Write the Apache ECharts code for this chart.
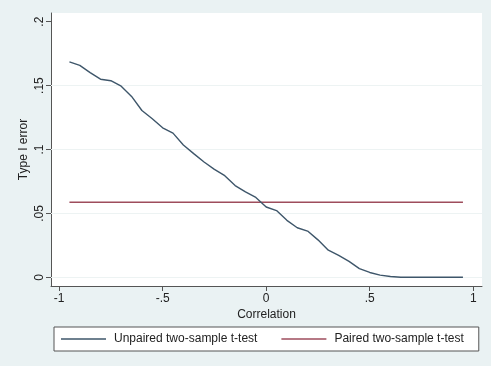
<!DOCTYPE html>
<html>
<head>
<meta charset="utf-8">
<script src="https://cdn.jsdelivr.net/npm/echarts@6/dist/echarts.min.js"></script>
<style>
html,body{margin:0;padding:0;background:#eaf2f3;}
#c{width:491px;height:366px;}
</style>
</head>
<body>
<div id="c"></div>
<script>
const correlation = [-0.95,-0.90,-0.85,-0.80,-0.75,-0.70,-0.65,-0.60,-0.55,-0.50,-0.45,-0.40,-0.35,-0.30,-0.25,-0.20,-0.15,-0.10,-0.05,0.00,0.05,0.10,0.15,0.20,0.25,0.30,0.35,0.40,0.45,0.50,0.55,0.60,0.65,0.70,0.75,0.80,0.85,0.90,0.95];
const unpaired = [0.1685,0.1658,0.1602,0.1550,0.1538,0.1495,0.1415,0.1305,0.1240,0.1170,0.1128,0.1035,0.0968,0.0902,0.0845,0.0795,0.0718,0.0668,0.0625,0.0550,0.0522,0.0446,0.0388,0.0362,0.0293,0.0212,0.0172,0.0125,0.0068,0.0038,0.0017,0.0006,0.0001,0.0000,0.0000,0.0000,0.0000,0.0000,0.0000];
const paired = [0.0587,0.0587,0.0587,0.0587,0.0587,0.0587,0.0587,0.0587,0.0587,0.0587,0.0587,0.0587,0.0587,0.0587,0.0587,0.0587,0.0587,0.0587,0.0587,0.0587,0.0587,0.0587,0.0587,0.0587,0.0587,0.0587,0.0587,0.0587,0.0587,0.0587,0.0587,0.0587,0.0587,0.0587,0.0587,0.0587,0.0587,0.0587,0.0587];
const xTicks = [-1, -0.5, 0, 0.5, 1];
const yTicks = [0, 0.05, 0.1, 0.15, 0.2];
const yGrid = [0, 0.05, 0.1, 0.15];
const seriesNames = ['Unpaired two-sample t-test', 'Paired two-sample t-test'];

function stataFmt(v) {
  if (Math.abs(v) < 1e-9) return '0';
  let s = String(Math.round(v * 1000) / 1000);
  s = s.replace(/^(-?)0\./, '$1.');
  return s;
}

const font = "'Liberation Sans', Arial, sans-serif";
const chart = echarts.init(document.getElementById('c'), null, {renderer: 'canvas'});
chart.setOption({
  backgroundColor: '#eaf2f3',
  animation: false,
  textStyle: {fontFamily: font},
  grid: {left: 51, right: 9, top: 13, bottom: 80, show: true, backgroundColor: '#ffffff', borderWidth: 0},
  xAxis: {
    type: 'value', min: -1.039, max: 1.042,
    name: 'Correlation', nameLocation: 'middle', nameGap: 23, nameMoveOverlap: false,
    nameTextStyle: {fontSize: 12, color: '#222', fontFamily: font},
    axisLine: {show: true, onZero: false, lineStyle: {color: '#555', width: 1}},
    axisTick: {show: true, customValues: xTicks, length: 5, lineStyle: {color: '#555'}},
    axisLabel: {customValues: xTicks, formatter: stataFmt, fontSize: 12, color: '#222', margin: 7, fontFamily: font},
    splitLine: {show: false}
  },
  yAxis: {
    type: 'value', min: -0.0068, max: 0.2068,
    name: 'Type I error', nameLocation: 'middle', nameGap: 21, nameMoveOverlap: false,
    nameTextStyle: {fontSize: 12, color: '#222', fontFamily: font},
    axisLine: {show: true, onZero: false, lineStyle: {color: '#555', width: 1}},
    axisTick: {show: true, customValues: yTicks, length: 5, lineStyle: {color: '#555'}},
    axisLabel: {customValues: yTicks, formatter: stataFmt, rotate: 90, fontSize: 12, color: '#222', margin: 5, fontFamily: font},
    splitLine: {show: false}
  },
  legend: {
    left: 54, top: 327,
    orient: 'horizontal',
    backgroundColor: '#ffffff', borderColor: '#555', borderWidth: 1, borderRadius: 0,
    padding: [6, 15, 6, 7],
    itemWidth: 45, itemHeight: 1.4, itemGap: 24,
    icon: 'rect',
    textStyle: {fontSize: 12, color: '#222', fontFamily: font, padding: [0, 0, 0, 3]},
    data: seriesNames
  },
  series: [
    {
      type: 'line', name: '_grid', data: [], silent: true, z: 1,
      markLine: {
        silent: true, symbol: 'none', label: {show: false}, z: 1,
        lineStyle: {color: '#edf3f3', width: 1, type: 'solid'},
        data: yGrid.map(v => ({yAxis: v}))
      }
    },
    {
      type: 'line', name: seriesNames[0], z: 3,
      data: correlation.map((x, i) => [x, unpaired[i]]),
      symbol: 'none', showSymbol: false,
      lineStyle: {color: '#3e566a', width: 1.4}, itemStyle: {color: '#3e566a'}
    },
    {
      type: 'line', name: seriesNames[1], z: 2,
      data: correlation.map((x, i) => [x, paired[i]]),
      symbol: 'none', showSymbol: false,
      lineStyle: {color: '#9e4d5c', width: 1.4}, itemStyle: {color: '#9e4d5c'}
    }
  ]
});
</script>
</body>
</html>
